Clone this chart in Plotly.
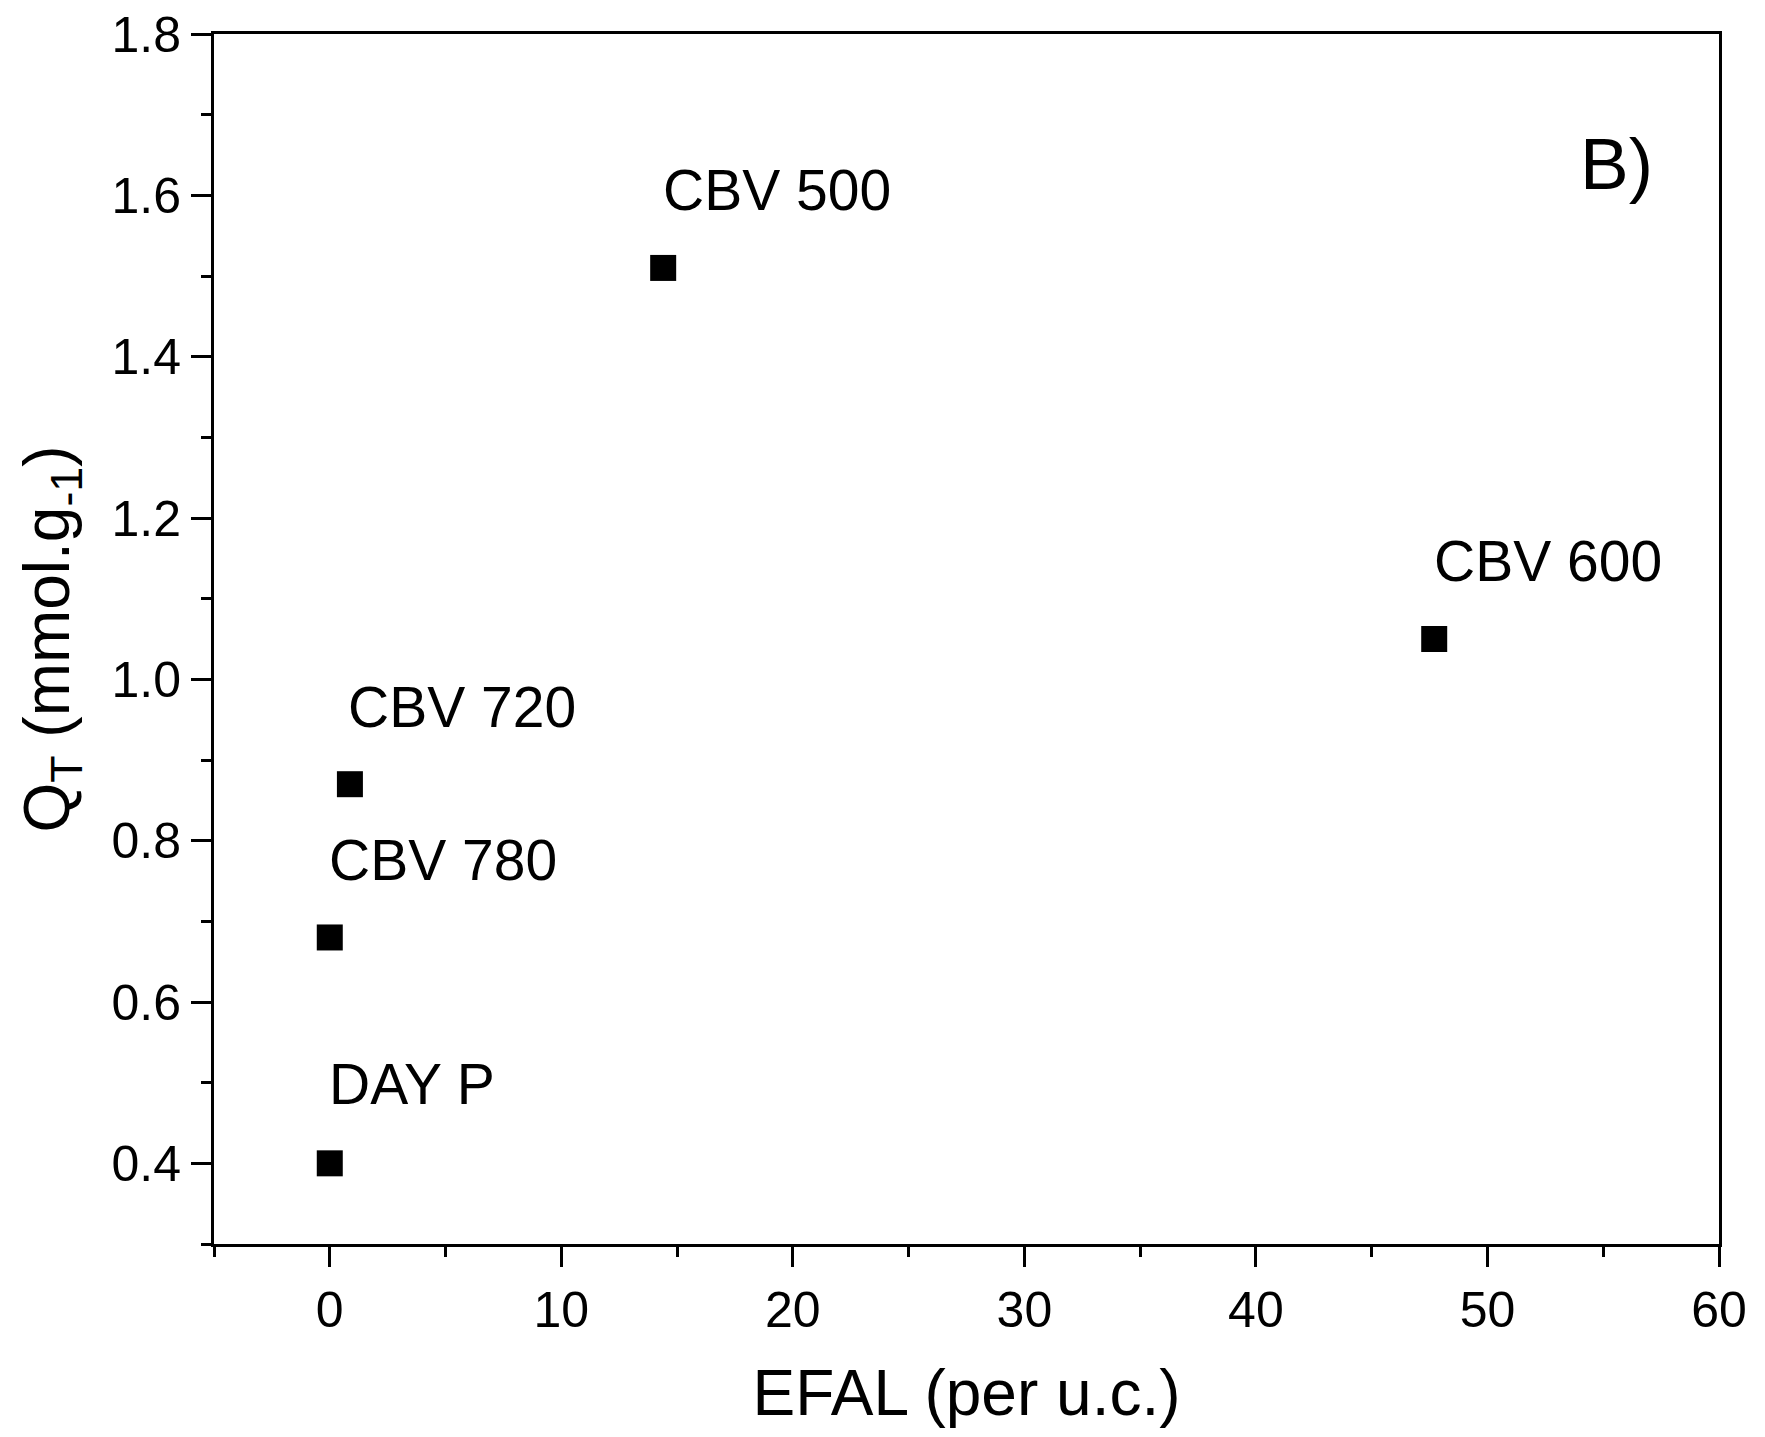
import plotly.graph_objects as go

# Data
samples = ["DAY P", "CBV 780", "CBV 720", "CBV 500", "CBV 600"]
efal = [0.0, 0.0, 0.87, 14.4, 47.7]
qt = [0.40, 0.68, 0.87, 1.51, 1.05]

# label anchor positions (data coords, left-aligned text)
label_x = [-0.1, -0.1, 0.7, 14.3, 47.6]
label_y = [0.498, 0.776, 0.966, 1.607, 1.147]

x_ticks = [0, 10, 20, 30, 40, 50, 60]
y_ticks = [0.4, 0.6, 0.8, 1.0, 1.2, 1.4, 1.6, 1.8]

FONT = "Liberation Sans, Arial, sans-serif"

fig = go.Figure()
fig.add_trace(go.Scatter(
    x=efal, y=qt, mode="markers",
    marker=dict(symbol="square", size=26, color="black", line=dict(width=0)),
    showlegend=False, hoverinfo="text", text=samples,
))

for name, lx, ly in zip(samples, label_x, label_y):
    fig.add_annotation(x=lx, y=ly, text=name, showarrow=False, xanchor="left", yanchor="middle",
                       font=dict(family=FONT, size=57, color="black"))

fig.add_annotation(x=53.9, y=1.64, text="B)", showarrow=False, xanchor="left", yanchor="middle",
                   font=dict(family=FONT, size=73, color="black"))

axis_common = dict(
    showgrid=False, zeroline=False, showline=True, linecolor="black", linewidth=3,
    mirror=True, ticks="outside", ticklen=20, tickwidth=3, tickcolor="black",
    tickfont=dict(family=FONT, size=50, color="black"),
    ticklabeloverflow="allow",
)

fig.update_xaxes(
    range=[-5, 60], tickvals=x_ticks, ticktext=[str(v) for v in x_ticks],
    minor=dict(ticks="outside", ticklen=10, tickwidth=3, tickcolor="black", dtick=5, tick0=-5, showgrid=False),
    title=dict(text="EFAL (per u.c.)", font=dict(family=FONT, size=64, color="black"), standoff=34),
    **axis_common,
)
fig.update_yaxes(
    range=[0.3, 1.8], tickvals=y_ticks, ticktext=[f"{v:.1f}" for v in y_ticks],
    minor=dict(ticks="outside", ticklen=10, tickwidth=3, tickcolor="black", dtick=0.2, tick0=0.3, showgrid=False),
    title=dict(text="Q<sub>T</sub> (mmol.g<sub>-1</sub>)", font=dict(family=FONT, size=64, color="black"), standoff=22),
    **axis_common,
)

fig.update_layout(
    width=1765, height=1437,
    margin=dict(l=206, r=54, t=26, b=201, autoexpand=False),
    paper_bgcolor="white", plot_bgcolor="white",
    font=dict(family=FONT, color="black"),
)

fig.write_html("out.html")
